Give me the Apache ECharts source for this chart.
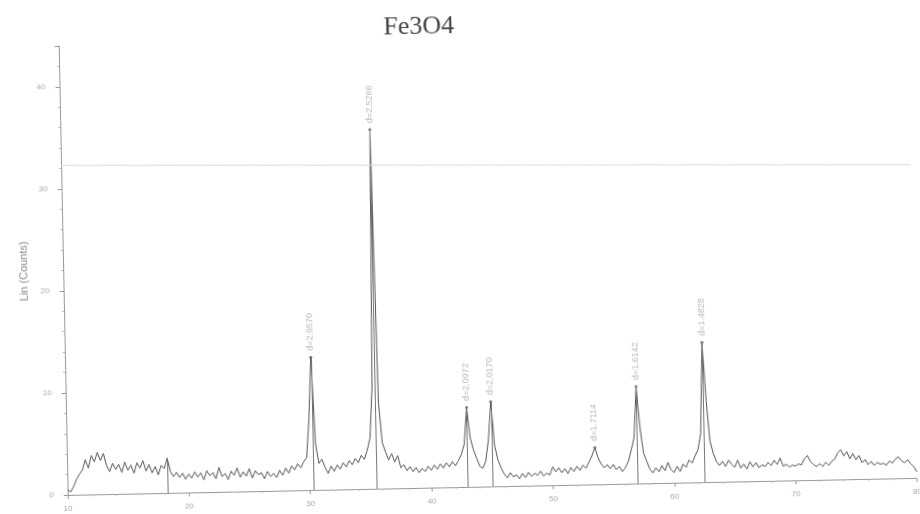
<!DOCTYPE html>
<html>
<head>
<meta charset="utf-8">
<script src="https://cdn.jsdelivr.net/npm/echarts@6/dist/echarts.min.js"></script>
<style>
html,body{margin:0;padding:0;background:#fff;overflow:hidden;}
#chart{width:920px;height:514px;transform:rotate(-1.15deg);transform-origin:460px 257px;}
</style>
</head>
<body>
<div id="chart"></div>
<script>
// 2-theta scan: start 10 deg, step 0.25 deg
const scanStart = 10;
const scanStep = 0.25;
const counts = [
0.5,0.3,0.8,1.5,2.0,
2.4,3.4,2.6,3.8,3.2,4.1,3.3,4.0,
2.8,2.2,3.0,2.4,2.9,2.1,3.1,2.3,
2.8,2.0,3.0,2.5,3.2,2.2,2.8,2.0,
2.6,1.8,2.7,2.4,3.4,2.1,1.6,2.0,
1.5,1.9,1.3,1.8,1.4,2.0,1.5,1.9,
1.2,2.1,1.6,1.9,1.3,2.4,1.5,1.8,
1.2,2.0,1.6,2.3,1.4,1.9,1.5,2.2,
1.3,2.0,1.6,1.8,1.2,1.9,1.4,1.7,
1.3,2.0,1.5,2.2,1.7,2.4,2.0,2.6,
2.2,2.8,3.2,7.0,13.0,4.5,2.6,3.0,
2.2,1.6,2.3,1.8,2.4,2.0,2.6,2.2,
2.8,2.4,3.0,2.6,3.3,2.9,3.8,5.0,
10.0,35.2,8.5,4.5,3.6,2.8,3.4,2.6,
3.2,2.0,2.3,1.7,2.1,1.6,2.0,1.5,
1.9,1.6,2.1,1.7,2.2,1.8,2.3,1.9,
2.4,2.0,2.5,2.1,2.6,3.2,4.2,7.8,
4.8,3.6,2.8,2.0,1.8,2.5,4.6,8.3,
4.0,2.6,1.8,1.2,0.8,1.3,0.9,1.1,
0.7,1.2,0.8,1.3,0.9,1.2,1.0,1.4,
0.9,1.2,1.0,1.8,1.3,1.7,1.2,1.6,
1.1,1.7,1.3,1.8,1.4,1.9,1.6,2.2,
2.8,3.6,2.6,2.0,1.6,1.9,1.5,1.9,
1.4,1.7,1.2,1.6,2.2,3.3,4.5,9.5,
5.5,3.0,2.2,1.4,1.0,1.5,1.1,1.7,
1.2,2.0,1.3,1.0,1.6,1.1,1.8,1.5,
2.2,1.9,2.6,3.2,4.8,13.7,8.0,4.0,
2.8,2.0,1.6,2.0,1.5,2.1,1.7,1.4,
2.1,1.3,1.7,1.2,1.9,1.4,1.8,1.3,
1.6,1.4,1.8,1.5,2.0,1.6,2.2,1.4,
1.6,1.3,1.5,1.4,1.6,1.5,2.1,2.4,
1.8,1.5,1.3,1.6,1.3,1.7,1.4,1.8,
2.0,2.6,2.9,2.3,2.7,2.0,2.5,1.9,
2.3,1.6,1.9,1.4,1.7,1.3,1.6,1.4,
1.5,1.3,1.7,1.5,1.9,2.1,1.7,1.5,
1.8,1.4,1.1,0.6
];
// labelled peaks
const peakPos = [30.25, 35.5, 43.0, 45.0, 53.5, 57.0, 62.5];
const peakHeight = [13.0, 35.2, 7.8, 8.3, 3.6, 9.5, 13.7];
const peakLabel = ['d=2.9570','d=2.5266','d=2.0972','d=2.0170','d=1.7114','d=1.6142','d=1.4828'];
// reference sticks
const stickPos = [18.25, 30.25, 35.5, 43.0, 45.0, 57.0, 62.5];
const stickHeight = [3.4, 13.0, 35.2, 7.8, 8.3, 9.5, 13.7];
const xTicks = [10, 20, 30, 40, 50, 60, 70, 80];
const yTicks = [0, 10, 20, 30, 40];
// scan artefact line (level at left and right edge, so it shows level after the page tilt)
const artefactLine = [[10, 32.3], [80, 30.7]];

const lineData = counts.map((v, i) => [scanStart + i * scanStep, v]);
const peakData = peakPos.map((p, i) => ({value: [p, peakHeight[i]], name: peakLabel[i]}));
const stickData = stickPos.map((p, i) => [{coord: [p, 0]}, {coord: [p, stickHeight[i]]}]);
const artefactData = [[{coord: artefactLine[0], lineStyle: {color: '#ddd', width: 1}}, {coord: artefactLine[1]}]];

const chart = echarts.init(document.getElementById('chart'));
chart.setOption({
  animation: false,
  backgroundColor: '#fff',
  title: {
    text: 'Fe3O4',
    left: 383,
    top: 8,
    textStyle: {fontFamily: 'Liberation Serif', fontSize: 26, fontWeight: 'normal', color: '#444'}
  },
  grid: {left: 63, right: 7, top: 38, bottom: 27},
  xAxis: {
    type: 'value', min: xTicks[0], max: xTicks[xTicks.length - 1], interval: 10,
    axisLine: {show: true, lineStyle: {color: '#999', width: 1}},
    axisTick: {show: true, length: 4, lineStyle: {color: '#999'}},
    minorTick: {show: true, splitNumber: 5, length: 2, lineStyle: {color: '#bbb'}},
    splitLine: {show: false},
    axisLabel: {fontSize: 8, color: '#aaa', margin: 10, fontFamily: 'Liberation Sans'}
  },
  yAxis: {
    type: 'value', min: yTicks[0], max: 44, interval: 10,
    name: 'Lin (Counts)', nameLocation: 'middle', nameGap: 34,
    nameTextStyle: {fontSize: 11, color: '#888', fontFamily: 'Liberation Sans'},
    axisLine: {show: true, lineStyle: {color: '#999', width: 1}},
    axisTick: {show: true, length: 4, lineStyle: {color: '#999'}},
    minorTick: {show: true, splitNumber: 5, length: 2, lineStyle: {color: '#bbb'}},
    splitLine: {show: false},
    axisLabel: {fontSize: 8, color: '#aaa', margin: 14, showMaxLabel: false, fontFamily: 'Liberation Sans'}
  },
  series: [
    {
      type: 'line',
      data: lineData,
      showSymbol: false,
      symbol: 'none',
      lineStyle: {color: '#555', width: 1},
      z: 3,
      markLine: {
        silent: true,
        symbol: 'none',
        label: {show: false},
        lineStyle: {color: '#777', width: 1, type: 'solid'},
        data: stickData.concat(artefactData)
      }
    },
    {
      type: 'scatter',
      data: peakData,
      symbolSize: 3,
      itemStyle: {color: '#666'},
      label: {
        show: true,
        formatter: p => p.name,
        position: 'top',
        rotate: 90,
        align: 'left',
        verticalAlign: 'middle',
        distance: 5,
        fontSize: 9,
        color: '#aaa',
        fontFamily: 'Liberation Sans'
      },
      z: 4
    }
  ]
});
</script>
</body>
</html>
